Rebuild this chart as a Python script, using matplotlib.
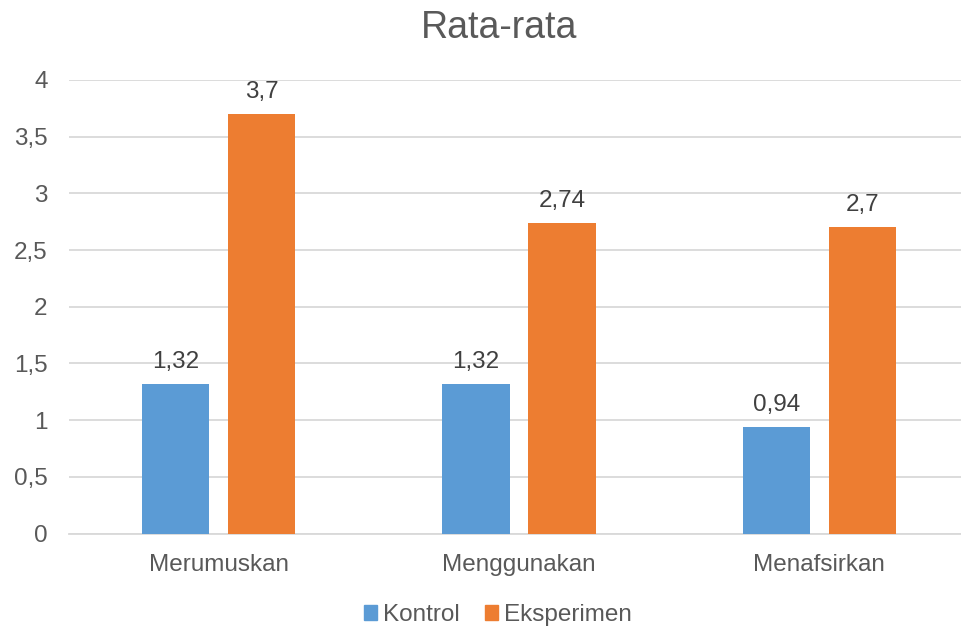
import matplotlib
matplotlib.use("Agg")
import matplotlib.pyplot as plt
import numpy as np
from matplotlib.patches import Patch

categories = ["Merumuskan", "Menggunakan", "Menafsirkan"]
kontrol = [1.32, 1.32, 0.94]
eksperimen = [3.7, 2.74, 2.7]
kontrol_labels = ["1,32", "1,32", "0,94"]
eksperimen_labels = ["3,7", "2,74", "2,7"]
yticks = [0, 0.5, 1, 1.5, 2, 2.5, 3, 3.5, 4]
ytick_labels = ["0", "0,5", "1", "1,5", "2", "2,5", "3", "3,5", "4"]

plt.rcParams['font.family'] = ['Liberation Sans', 'DejaVu Sans']

W, H = 962, 626
fig = plt.figure(figsize=(W/100, H/100), dpi=100)
left, right = 68.5, 969.5
bottom, top = 533.5, 80
ax = fig.add_axes([left/W, (H-bottom)/H, (right-left)/W, (bottom-top)/H])

blue = "#5B9BD5"
orange = "#ED7D31"
x = np.arange(len(categories))
bw = 0.224
off = 0.143
ax.bar(x - off, kontrol, bw, color=blue, zorder=3)
ax.bar(x + off, eksperimen, bw, color=orange, zorder=3)

fs = 17.5
for xi, v, lab in zip(x - off, kontrol, kontrol_labels):
    ax.annotate(lab, (xi, v), xytext=(0, 11), textcoords="offset pixels",
                ha="center", va="bottom", fontsize=fs, color="#404040")
for xi, v, lab in zip(x + off, eksperimen, eksperimen_labels):
    ax.annotate(lab, (xi, v), xytext=(0, 11), textcoords="offset pixels",
                ha="center", va="bottom", fontsize=fs, color="#404040")

ax.set_xlim(-0.5, 2.5)
ax.set_ylim(0, 4)
ax.set_yticks(yticks)
ax.set_yticklabels(ytick_labels)
ax.set_xticks(x)
ax.set_xticklabels(categories)
ax.tick_params(axis='both', length=0, labelsize=fs, labelcolor="#595959")
ax.tick_params(axis='y', pad=15)
ax.tick_params(axis='x', pad=15)
ax.grid(axis='y', color="#D9D9D9", linewidth=1.3, zorder=0)
for s in ["top", "right", "left"]:
    ax.spines[s].set_visible(False)
ax.spines["bottom"].set_color("#D9D9D9")
ax.spines["bottom"].set_linewidth(1.3)

fig.text(499/W, 1 - 28/H, "Rata-rata", ha="center", va="center",
         fontsize=27, color="#595959")

handles = [Patch(color=blue, label="Kontrol"), Patch(color=orange, label="Eksperimen")]
fig.legend(handles=handles, loc="center", bbox_to_anchor=(498/W, 1 - 615/H), ncol=2,
           frameon=False, fontsize=fs, labelcolor="#595959",
           handlelength=0.53, handleheight=0.53, handletextpad=0.25, columnspacing=1.03,
           borderpad=0)

fig.savefig("out.png", dpi=100)
